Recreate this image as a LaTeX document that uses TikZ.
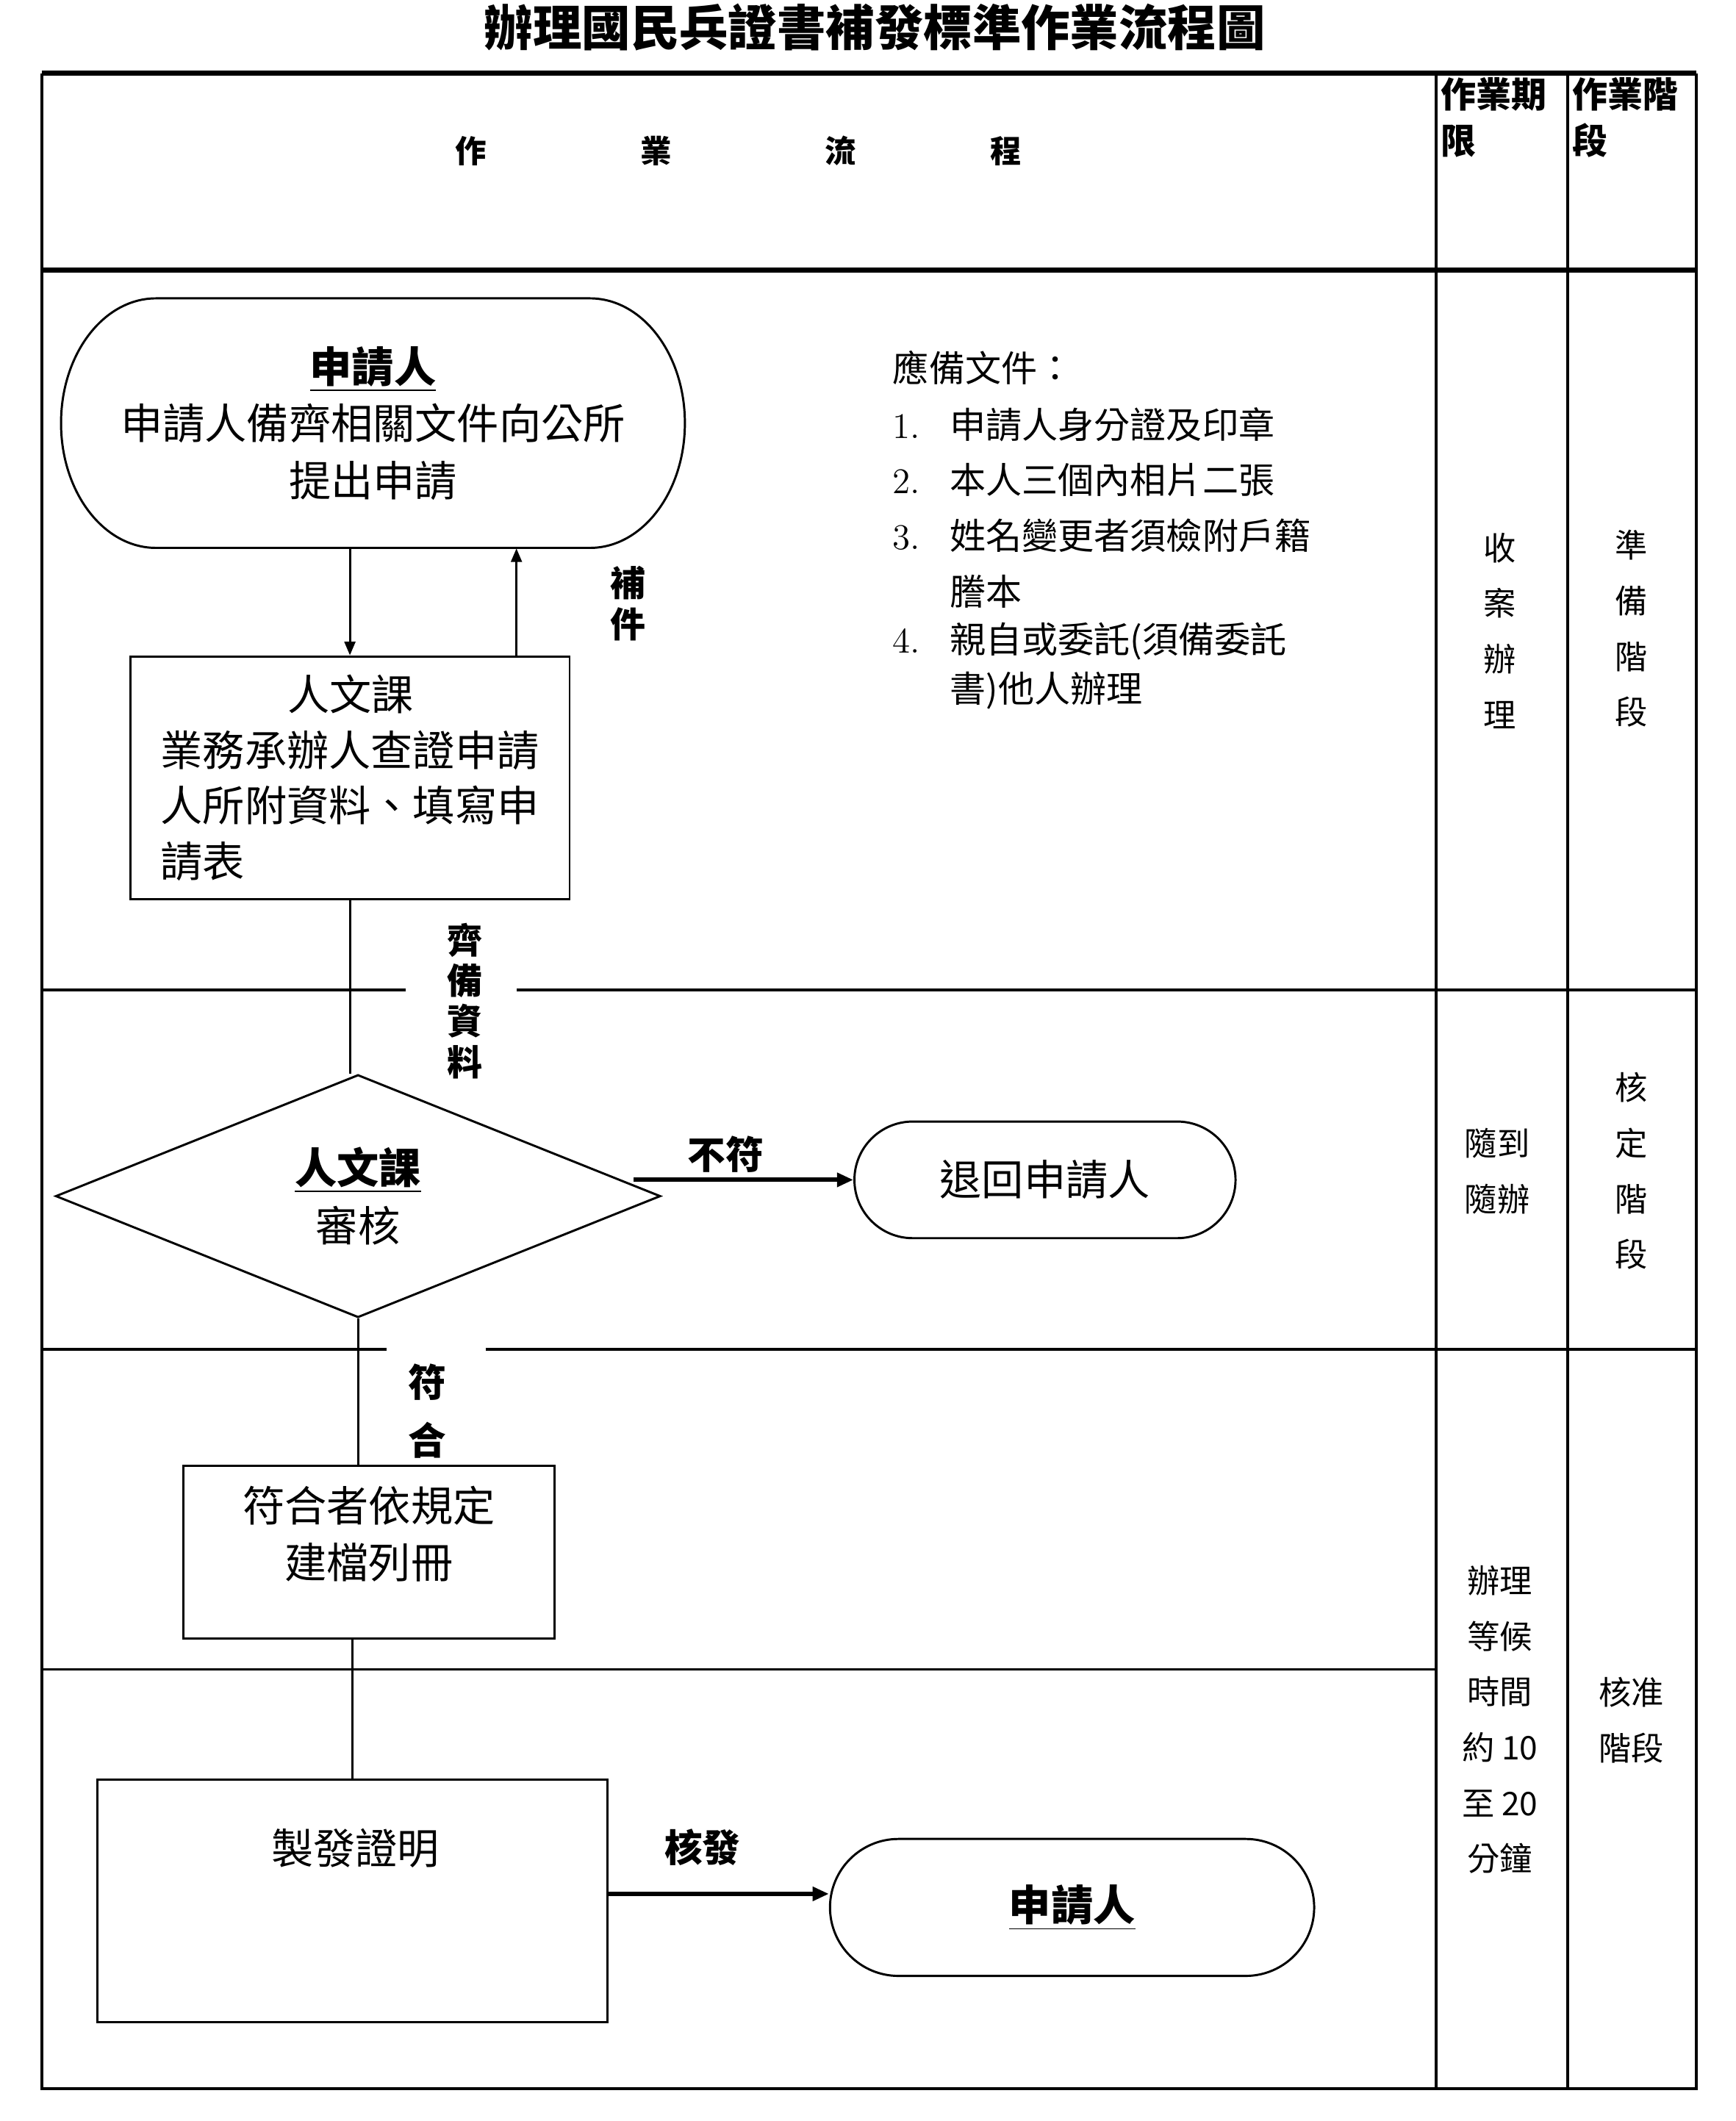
\documentclass[tikz,border=0pt]{standalone}
\usepackage{fontspec}
\newfontfamily\cjk{Noto Sans CJK TC}
\usetikzlibrary{arrows.meta,calc,shapes.geometric,shapes.misc}
\tikzset{
 tbl/.style={line width=1.1pt},
 tblthick/.style={line width=1.8pt},
 shp/.style={draw, line width=0.8pt, inner sep=0pt},
 conn/.style={line width=0.8pt},
 arr/.style={line width=0.8pt, -{Triangle[length=5pt,width=4pt]}},
 bigarr/.style={line width=1.6pt, -{Triangle[length=6pt,width=5pt]}},
 body/.style={font=\cjk\fontsize{15.5pt}{21pt}\selectfont, align=center, inner sep=0pt},
 lbl/.style={font=\cjk\bfseries\fontsize{13pt}{15pt}\selectfont, align=center, inner sep=0pt},
 side/.style={font=\cjk\fontsize{12pt}{20.5pt}\selectfont, align=center, inner sep=0pt},
 listtxt/.style={font=\cjk\fontsize{13.3pt}{16pt}\selectfont, anchor=west, inner sep=0pt},
 hdr/.style={font=\cjk\bfseries\fontsize{13pt}{17pt}\selectfont, align=left, anchor=north west, inner sep=0pt},
}
\begin{document}
\begin{tikzpicture}[x=0.5pt,y=-0.5pt]
\useasboundingbox (0,0) rectangle (1280,1564);

% title
\node[font=\cjk\bfseries\fontsize{18pt}{20pt}\selectfont, inner sep=0pt] (title) at (645,20) {辦理國民兵證書補發標準作業流程圖};

% table
\draw[tblthick] (31,54) -- (1251,54);
\draw[tblthick] (31,199) -- (1251,199);
\draw[tbl] (31,54) -- (31,1540) -- (1251,1540) -- (1251,54);
\draw[tbl] (1059,54) -- (1059,1540);
\draw[tbl] (1156,54) -- (1156,1540);
\draw[tbl] (31,730) -- (299,730) (381,730) -- (1251,730);
\draw[tbl] (31,995) -- (285,995) (358,995) -- (1251,995);
\draw[line width=0.8pt] (31,1231) -- (1059,1231);

% header
\node[font=\cjk\bfseries\fontsize{11.5pt}{12pt}\selectfont, inner sep=0pt] (hflow) at (544.5,111) {作\hspace{57pt}業\hspace{56.5pt}流\hspace{49.5pt}程};
\node[hdr] (hlim) at (1062,57) {作業期\\限};
\node[hdr] (hstage) at (1159,57) {作業階\\段};

% nodes
\node[body, minimum width=230pt, minimum height=92pt] (s1) at (275,312) {\underline{\bfseries 申請人}\\申請人備齊相關文件向公所\\提出申請};
\draw[shp] (115,220) -- (435,220) .. controls (473.7,220) and (505,261.2) .. (505,312) .. controls (505,362.8) and (473.7,404) .. (435,404) -- (115,404) .. controls (76.3,404) and (45,362.8) .. (45,312) .. controls (45,261.2) and (76.3,220) .. (115,220) -- cycle;

\node[shp, body, font=\cjk\fontsize{15.5pt}{20.5pt}\selectfont, align=left, minimum width=162pt, minimum height=89.5pt] (b1) at (258,573.5) {\hspace*{46.75pt}人文課\\業務承辦人查證申請\\人所附資料、填寫申\\請表};

\node[shp, diamond, body, font=\cjk\fontsize{15.5pt}{21.5pt}\selectfont, minimum width=223pt, minimum height=89.5pt] (d1) at (264,882) {\underline{\bfseries 人文課}\\審核};

\node[shp, rounded rectangle, body, minimum width=140.5pt, minimum height=43pt] (r1) at (770.5,870) {退回申請人};

\node[shp, minimum width=137pt, minimum height=63.5pt] (b2) at (272,1144.5) {};
\node[body] (b2t) at (272,1131) {符合者依規定\\建檔列冊};

\node[shp, minimum width=188pt, minimum height=89.5pt] (b3) at (260,1401.5) {};
\node[body] (b3t) at (262,1363) {製發證明};

\node[shp, rounded rectangle, body, minimum width=178.5pt, minimum height=50.5pt] (s3) at (790.5,1406.5) {\underline{\bfseries 申請人}};

% connectors
\draw[arr] (s1.south -| b1.north) -- (b1.north);
\draw[arr] ($(b1.north east)+(-40,0)$) coordinate (u1) -- (u1 |- s1.south);
\node[lbl] (lbj) at (463,445) {補\\件};

\draw[conn] (b1.south) -- (b1.south |- d1.north);
\node[lbl] (lqb) at (343,738) {齊\\備\\資\\料};

\draw[bigarr] ($(r1.west)+(-162,0)$) -- (r1.west);
\node[lbl, font=\cjk\bfseries\fontsize{14pt}{15pt}\selectfont] (lbf) at (535,851) {不符};

\draw[conn] (d1.south) -- (d1.south |- b2.north);
\node[lbl, font=\cjk\bfseries\fontsize{14pt}{21.5pt}\selectfont] (lfh) at (315,1040.5) {符\\合};

\draw[conn] (b3.north |- b2.south) -- (b3.north);

\draw[bigarr] ($(b3.east)+(0,-5)$) coordinate (a3) -- (a3 -| s3.west);
\node[lbl, font=\cjk\bfseries\fontsize{14pt}{15pt}\selectfont] (lhf) at (518,1362) {核發};

% list
\node[listtxt] (l0) at (658,271) {應備文件：};
\node[listtxt] (l1) at (658,313) {\makebox[21pt][l]{\rmfamily 1.}申請人身分證及印章};
\node[listtxt] (l2) at (658,354) {\makebox[21pt][l]{\rmfamily 2.}本人三個內相片二張};
\node[listtxt] (l3) at (658,395) {\makebox[21pt][l]{\rmfamily 3.}姓名變更者須檢附戶籍};
\node[listtxt] (l3b) at (700,436) {謄本};
\node[listtxt] (l4) at (658,473) {\makebox[21pt][l]{\rmfamily 4.}親自或委託(須備委託};
\node[listtxt] (l4b) at (700,509) {書)他人辦理};

% side columns
\node[side] (t1) at (1106,465) {收\\案\\辦\\理};
\node[side] (t2) at (1203,463.5) {準\\備\\階\\段};
\node[side] (t3) at (1104,863.5) {隨到\\隨辦};
\node[side] (t4) at (1203,863.5) {核\\定\\階\\段};
\node[side] (t5) at (1106,1268) {辦理\\等候\\時間\\約 10\\至 20\\分鐘};
\node[side] (t6) at (1203,1268.5) {核准\\階段};
\end{tikzpicture}
\end{document}
